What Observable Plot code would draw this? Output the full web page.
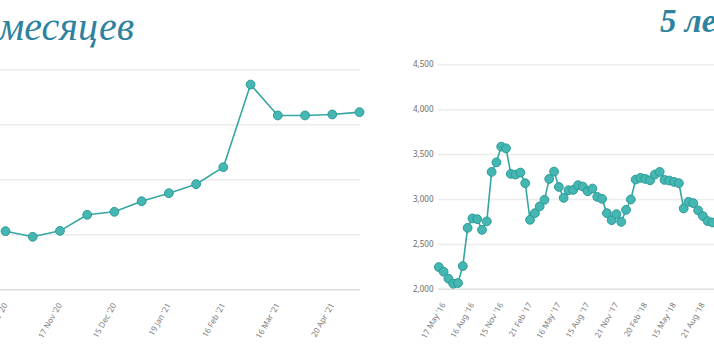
<!DOCTYPE html>
<html><head><meta charset="utf-8">
<script src="https://cdn.jsdelivr.net/npm/d3@7"></script>
<script src="https://cdn.jsdelivr.net/npm/@observablehq/plot@0.6"></script>
<style>
html,body{margin:0;padding:0;background:#fff;overflow:hidden;}
#wrap{position:relative;width:714px;height:357px;overflow:hidden;background:#fff;}
.layer{position:absolute;top:0;}
</style></head><body><div id="wrap"></div>
<script>
// ---- data ----
const leftLabels = ["20 Oct '20","17 Nov '20","15 Dec '20","19 Jan '21","16 Feb '21","16 Mar '21","20 Apr '21"];
const leftValues = [2533,2482,2536,2682,2709,2805,2878,2960,3115,3866,3585,3585,3594,3615];
const leftYTicks = [2000,2500,3000,3500,4000];

const rightLabels = ["17 May '16","16 Aug '16","15 Nov '16","21 Feb '17","16 May '17","15 Aug '17","21 Nov '17","20 Feb '18","15 May '18","21 Aug '18"];
const rightValues = [2248,2196,2118,2062,2070,2259,2684,2789,2781,2662,2756,3307,3414,3589,3570,3285,3278,3300,3181,2774,
  2848,2922,2996,3229,3311,3140,3018,3103,3107,3159,3144,3092,3122,3029,3007,2848,2770,2837,2751,2885,
  3000,3222,3241,3229,3214,3278,3307,3218,3211,3196,3181,2900,2974,2959,2878,2815,2759,2744];
const rightYTicks = [2000,2500,3000,3500,4000,4500];

const leftTitle = "месяцев";
const rightTitle = "5 лет";

// ---- style ----
const LINE = "#36a6a3", FILL = "#45b7b3", EDGE = "#2b9b97";
const GRID = "#ececec", BASE = "#dedede";
const FONT = "'Segoe UI','Noto Sans',sans-serif";

const wrap = document.getElementById("wrap");
const fmt = d3.format(",");

function chart(values, labels, labelStep, labelStart, yTicks, opts) {
  const data = values.map((v, i) => ({i, v}));
  const tickIdx = labels.map((_, k) => labelStart + k * labelStep);
  const marks = [
    Plot.ruleY(yTicks.slice(1), {stroke: GRID, strokeWidth: 1.5}),
    Plot.ruleY([yTicks[0]], {stroke: BASE, strokeWidth: 1.5}),
    Plot.axisX({ticks: tickIdx, tickSize: 0, tickPadding: 14, tickRotate: -60, label: null, fill: "#7a7a7a",
      tickFormat: d => labels[(d - labelStart) / labelStep]}),
    Plot.line(data, {x: "i", y: "v", stroke: LINE, strokeWidth: 1.6}),
    Plot.dot(data, {x: "i", y: "v", r: 4.4, fill: FILL, stroke: EDGE, strokeWidth: 1})
  ];
  if (opts.yAxis) marks.splice(2, 0, Plot.axisY({ticks: yTicks, tickSize: 0, tickPadding: 5, tickFormat: fmt, label: null}));
  return Plot.plot({
    width: opts.width, height: 357,
    marginLeft: opts.ml, marginRight: 0, marginTop: opts.mt, marginBottom: opts.mb,
    x: {domain: [0, values.length - 1], range: opts.xr, axis: null},
    y: {domain: [yTicks[0], yTicks[yTicks.length - 1]], axis: null},
    style: {fontFamily: FONT, fontSize: "8px", color: "#6a6a6a", background: "transparent", overflow: "visible"},
    marks
  });
}

const left = chart(leftValues, leftLabels, 2, 0, leftYTicks, {width: 420, ml: 60, mt: 69.3, mb: 67.7, xr: [65, 419], yAxis: false});
left.classList.add("layer"); left.style.left = "-60px";
wrap.appendChild(left);

const right = chart(rightValues, rightLabels, 6, 1, rightYTicks, {width: 334, ml: 58, mt: 64.3, mb: 68.2, xr: [58.3, 332], yAxis: true});
right.classList.add("layer"); right.style.left = "380px";
wrap.appendChild(right);

// titles
const svg = d3.select(wrap).append("svg").attr("class", "layer").attr("width", 714).attr("height", 357).style("left", "0px").style("pointer-events", "none");
svg.append("text").text(leftTitle).attr("x", 134).attr("y", 40).attr("text-anchor", "end")
  .attr("font-family", "'Liberation Serif','DejaVu Serif',serif").attr("font-style", "italic").attr("font-size", 40).attr("fill", "#2e82a0");
svg.append("text").text(rightTitle).attr("x", 660).attr("y", 32)
  .attr("font-family", "'Liberation Serif','DejaVu Serif',serif").attr("font-style", "italic").attr("font-weight", "bold").attr("font-size", 33).attr("fill", "#2e82a0");
</script></body></html>
